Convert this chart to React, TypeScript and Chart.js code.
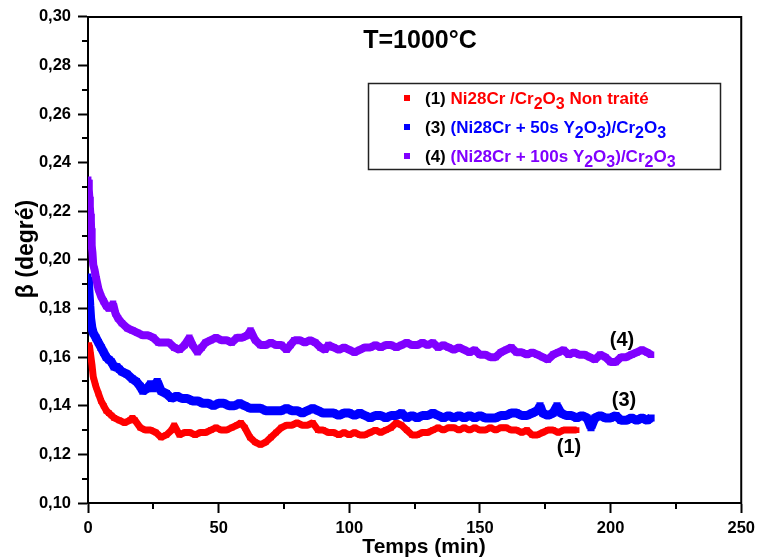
import React, { useEffect, useRef } from 'react';
import { Chart, registerables } from 'chart.js';

Chart.register(...registerables);

const FONT = '"Liberation Sans", Arial, Helvetica, sans-serif';

// ---- Data (time in min, beta in degrees) ----
const timeRed = [0.5, 1, 1.5, 2, 3, 4, 5, 6, 7, 8, 9, 10, 12, 14, 16, 17, 18, 20, 22, 24, 26, 28, 30, 32, 33, 35, 37, 39, 41, 43, 45, 47, 49, 51, 53, 55, 57, 58.5, 60, 62, 64, 66, 68, 70, 72, 74, 76, 78, 80, 82, 84, 86, 88, 90, 92, 94, 96, 98, 100, 102, 104, 106, 108, 110, 112, 114, 116, 118, 120, 122, 124, 126, 128, 130, 132, 134, 136, 138, 140, 142, 144, 146, 148, 150, 152, 154, 156, 158, 160, 162, 164, 166, 168, 170, 172, 174, 176, 178, 180, 182, 184, 186, 187];
const betaRed = [0.165, 0.161, 0.157, 0.152, 0.148, 0.145, 0.142, 0.14, 0.138, 0.137, 0.136, 0.135, 0.134, 0.133, 0.134, 0.135, 0.134, 0.131, 0.13, 0.13, 0.129, 0.127, 0.128, 0.13, 0.132, 0.128, 0.129, 0.129, 0.128, 0.129, 0.129, 0.13, 0.131, 0.13, 0.13, 0.131, 0.132, 0.133, 0.131, 0.127, 0.125, 0.124, 0.125, 0.127, 0.129, 0.131, 0.132, 0.132, 0.133, 0.132, 0.132, 0.133, 0.13, 0.13, 0.129, 0.129, 0.128, 0.129, 0.128, 0.129, 0.128, 0.128, 0.129, 0.13, 0.129, 0.13, 0.131, 0.133, 0.132, 0.13, 0.128, 0.128, 0.129, 0.129, 0.13, 0.131, 0.13, 0.131, 0.131, 0.13, 0.131, 0.13, 0.131, 0.13, 0.13, 0.131, 0.13, 0.131, 0.131, 0.13, 0.13, 0.129, 0.13, 0.128, 0.128, 0.129, 0.13, 0.13, 0.129, 0.13, 0.13, 0.13, 0.13];

const timeBlue = [0, 0.3, 0.7, 1, 1.5, 2, 3, 4, 5, 6, 7, 8, 9, 10, 11, 12, 13, 15, 17, 18.5, 20, 21, 22.5, 24, 25, 26.5, 28, 30, 32, 34, 36, 38, 40, 42, 44, 46, 48, 50, 52, 54, 56, 58, 60, 62, 64, 66, 68, 70, 72, 74, 76, 78, 80, 82, 84, 86, 88, 90, 92, 94, 96, 98, 100, 102, 104, 106, 108, 110, 112, 114, 116, 118, 120, 122, 124, 126, 128, 130, 132, 134, 136, 138, 140, 142, 144, 146, 148, 150, 152, 154, 156, 158, 160, 162, 164, 166, 168, 170, 172, 173, 174, 176, 178, 179.5, 181, 183, 185, 187, 189, 191, 192.5, 194, 196, 198, 200, 202, 204, 206, 208, 210, 212, 214, 215.5];
const betaBlue = [0.193, 0.188, 0.181, 0.176, 0.172, 0.17, 0.168, 0.166, 0.164, 0.162, 0.16, 0.159, 0.158, 0.156, 0.156, 0.155, 0.154, 0.153, 0.151, 0.15, 0.148, 0.146, 0.147, 0.149, 0.147, 0.15, 0.146, 0.145, 0.143, 0.144, 0.143, 0.143, 0.142, 0.142, 0.141, 0.141, 0.14, 0.141, 0.141, 0.14, 0.14, 0.141, 0.14, 0.139, 0.139, 0.139, 0.138, 0.138, 0.138, 0.138, 0.139, 0.138, 0.138, 0.137, 0.138, 0.139, 0.138, 0.137, 0.137, 0.137, 0.136, 0.137, 0.137, 0.136, 0.137, 0.136, 0.135, 0.136, 0.136, 0.135, 0.136, 0.136, 0.137, 0.135, 0.136, 0.135, 0.136, 0.136, 0.137, 0.136, 0.135, 0.136, 0.135, 0.136, 0.135, 0.136, 0.135, 0.136, 0.135, 0.135, 0.135, 0.136, 0.136, 0.137, 0.137, 0.136, 0.136, 0.137, 0.138, 0.14, 0.137, 0.136, 0.137, 0.14, 0.137, 0.136, 0.136, 0.135, 0.136, 0.135, 0.131, 0.135, 0.136, 0.135, 0.135, 0.136, 0.134, 0.134, 0.135, 0.134, 0.135, 0.134, 0.135];

const timePurple = [0.1, 0.3, 0.5, 0.7, 0.9, 1.1, 1.2, 1.3, 1.5, 1.7, 2, 2.5, 3, 4, 5, 6, 7, 8, 9, 9.6, 10.5, 11.5, 13, 15, 17, 19, 21, 23, 25, 27, 29, 31, 33, 35, 37, 38.8, 40, 41.9, 43.5, 45, 47, 49, 51, 53, 55, 57, 59, 61, 62.2, 64, 66, 68, 70, 72, 74, 76, 77.5, 79, 81, 83, 85, 87, 89, 90.7, 92, 94, 96, 98, 100, 102, 104, 106, 108, 110, 112, 114, 116, 118, 120, 122, 124, 126, 128, 130, 132, 134, 136, 138, 140, 142, 144, 146, 148, 150, 152, 154, 156, 158, 160, 162, 164, 166, 168, 170, 172, 174, 176, 178, 180, 182, 184, 186, 188, 190, 192, 194, 196, 198, 200, 202, 204, 206, 208, 210, 212, 214, 215.5];
const betaPurple = [0.233, 0.229, 0.226, 0.222, 0.219, 0.216, 0.213, 0.209, 0.206, 0.203, 0.198, 0.196, 0.193, 0.188, 0.185, 0.183, 0.181, 0.18, 0.181, 0.182, 0.178, 0.176, 0.174, 0.172, 0.171, 0.17, 0.169, 0.169, 0.168, 0.166, 0.166, 0.166, 0.164, 0.163, 0.165, 0.168, 0.165, 0.162, 0.164, 0.166, 0.167, 0.168, 0.167, 0.167, 0.166, 0.168, 0.168, 0.169, 0.171, 0.167, 0.165, 0.165, 0.166, 0.165, 0.165, 0.163, 0.165, 0.167, 0.167, 0.166, 0.167, 0.166, 0.164, 0.163, 0.165, 0.164, 0.163, 0.164, 0.163, 0.162, 0.163, 0.164, 0.164, 0.165, 0.164, 0.165, 0.165, 0.164, 0.165, 0.166, 0.165, 0.165, 0.166, 0.165, 0.166, 0.164, 0.165, 0.164, 0.163, 0.164, 0.163, 0.162, 0.163, 0.161, 0.161, 0.16, 0.16, 0.162, 0.163, 0.164, 0.162, 0.162, 0.161, 0.162, 0.161, 0.16, 0.159, 0.161, 0.162, 0.163, 0.161, 0.162, 0.161, 0.161, 0.16, 0.159, 0.161, 0.16, 0.158, 0.158, 0.16, 0.16, 0.161, 0.162, 0.163, 0.162, 0.161];

const xTickLabels = ['0', '50', '100', '150', '200', '250'];
const yTickLabels = ['0,10', '0,12', '0,14', '0,16', '0,18', '0,20', '0,22', '0,24', '0,26', '0,28', '0,30'];
const xMinor = [25, 75, 125, 175, 225];
const yMinor = [0.11, 0.13, 0.15, 0.17, 0.19, 0.21, 0.23, 0.25, 0.27, 0.29];

const RED = '#ff0000';
const BLUE = '#0000ff';
const PURPLE = '#8000ff';

const titleText = 'T=1000°C';
const xTitle = 'Temps (min)';
const yTitle = 'β (degré)';

type Part = [string, boolean];
const legendItems: { num: string; color: string; parts: Part[] }[] = [
  { num: '(1) ', color: RED, parts: [['Ni28Cr /Cr', false], ['2', true], ['O', false], ['3', true], [' Non traité', false]] },
  { num: '(3) ', color: BLUE, parts: [['(Ni28Cr + 50s Y', false], ['2', true], ['O', false], ['3', true], [')/Cr', false], ['2', true], ['O', false], ['3', true]] },
  { num: '(4) ', color: PURPLE, parts: [['(Ni28Cr + 100s Y', false], ['2', true], ['O', false], ['3', true], [')/Cr', false], ['2', true], ['O', false], ['3', true]] },
];

const curveLabels = [
  { text: '(4)', x: 622, y: 340 },
  { text: '(3)', x: 624, y: 400 },
  { text: '(1)', x: 569, y: 447 },
];

const toXY = (xs: number[], ys: number[]) => xs.map((x, i) => ({ x, y: ys[i] }));

const decorPlugin = {
  id: 'decor',
  afterDraw(chart: any) {
    const { ctx, chartArea, scales } = chart;
    const { left, right, top, bottom } = chartArea;
    const xs = scales.x;
    const ys = scales.y;
    ctx.save();
    ctx.strokeStyle = '#000';
    ctx.lineWidth = 2;
    ctx.beginPath();
    ctx.moveTo(left - 1, top);
    ctx.lineTo(right, top);
    ctx.lineTo(right, bottom + 1);
    ctx.stroke();
    ctx.beginPath();
    for (const v of yMinor) {
      const py = Math.round(ys.getPixelForValue(v));
      ctx.moveTo(left - 6, py);
      ctx.lineTo(left, py);
    }
    for (const v of xMinor) {
      const px = Math.round(xs.getPixelForValue(v));
      ctx.moveTo(px, bottom);
      ctx.lineTo(px, bottom + 6);
    }
    ctx.stroke();

    ctx.fillStyle = '#000';
    ctx.textBaseline = 'alphabetic';
    ctx.textAlign = 'center';
    ctx.font = `bold 25px ${FONT}`;
    ctx.fillText(titleText, 420, 48);

    ctx.font = `bold 21px ${FONT}`;
    ctx.fillText(xTitle, 424, 553);
    ctx.save();
    ctx.translate(33, 249);
    ctx.rotate(-Math.PI / 2);
    ctx.font = `bold 23px ${FONT}`;
    ctx.fillText(yTitle, 0, 0);
    ctx.restore();

    ctx.font = `bold 20px ${FONT}`;
    ctx.textBaseline = 'middle';
    for (const c of curveLabels) ctx.fillText(c.text, c.x, c.y);

    ctx.fillStyle = '#fff';
    ctx.fillRect(368, 83, 352, 86);
    ctx.lineWidth = 1.5;
    ctx.strokeStyle = '#222';
    ctx.strokeRect(368.5, 83.5, 352, 86);
    ctx.textAlign = 'left';
    ctx.textBaseline = 'alphabetic';
    const baselines = [104, 133, 162];
    legendItems.forEach((item, i) => {
      const base = baselines[i];
      ctx.fillStyle = item.color;
      ctx.fillRect(404, base - 9, 6, 6);
      let x = 425;
      ctx.font = `bold 17px ${FONT}`;
      ctx.fillStyle = '#000';
      ctx.fillText(item.num, x, base);
      x += ctx.measureText(item.num).width;
      ctx.fillStyle = item.color;
      for (const [t, sub] of item.parts) {
        ctx.font = sub ? `bold 16px ${FONT}` : `bold 17px ${FONT}`;
        ctx.fillText(t, x, sub ? base + 5 : base);
        x += ctx.measureText(t).width;
      }
    });
    ctx.restore();
  },
};

export default function App() {
  const canvasRef = useRef<HTMLCanvasElement | null>(null);

  useEffect(() => {
    if (!canvasRef.current) return;
    const mk = (label: string, xs: number[], ys: number[], color: string, w: number) => ({
      label,
      data: toXY(xs, ys),
      showLine: true,
      borderColor: color,
      backgroundColor: color,
      borderWidth: w,
      borderJoinStyle: 'bevel' as const,
      pointStyle: 'rect' as const,
      pointRadius: w / 2 + 0.5,
      pointBorderWidth: 0,
      pointBackgroundColor: color,
      tension: 0,
    });
    const chart = new Chart(canvasRef.current, {
      type: 'scatter',
      data: {
        datasets: [
          mk('(4)', timePurple, betaPurple, PURPLE, 8),
          mk('(3)', timeBlue, betaBlue, BLUE, 9),
          mk('(1)', timeRed, betaRed, RED, 7),
        ],
      },
      options: {
        responsive: false,
        animation: false,
        layout: { padding: { top: 14, right: 14, left: 0, bottom: 0 } },
        plugins: { legend: { display: false }, tooltip: { enabled: false }, title: { display: false } },
        scales: {
          x: {
            type: 'linear',
            min: 0,
            max: 250,
            afterFit: (s: any) => { s.height = 56; },
            border: { display: true, color: '#000', width: 2 },
            grid: { display: true, drawOnChartArea: false, drawTicks: true, tickLength: 10, tickWidth: 2, color: '#000', tickColor: '#000' },
            ticks: {
              stepSize: 50,
              padding: 6,
              color: '#000',
              font: { family: FONT, size: 16.5, weight: 'bold' },
              maxRotation: 0,
              callback: (v: any) => {
                const i = Math.round(Number(v) / 50);
                return xTickLabels[i] ?? '';
              },
            },
          },
          y: {
            type: 'linear',
            min: 0.1,
            max: 0.3,
            afterFit: (s: any) => { s.width = 88; },
            border: { display: true, color: '#000', width: 2 },
            grid: { display: true, drawOnChartArea: false, drawTicks: true, tickLength: 10, tickWidth: 2, color: '#000', tickColor: '#000' },
            ticks: {
              stepSize: 0.02,
              padding: 7,
              color: '#000',
              font: { family: FONT, size: 16.5, weight: 'bold' },
              callback: (v: any) => {
                const i = Math.round((Number(v) - 0.1) / 0.02);
                return yTickLabels[i] ?? '';
              },
            },
          },
        },
      },
      plugins: [decorPlugin],
    } as any);
    return () => chart.destroy();
  }, []);

  return (
    <div style={{ position: 'absolute', left: 0, top: 0, width: 761, height: 559, background: '#fff' }}>
      <canvas ref={canvasRef} width={761} height={559} style={{ display: 'block' }} />
    </div>
  );
}
